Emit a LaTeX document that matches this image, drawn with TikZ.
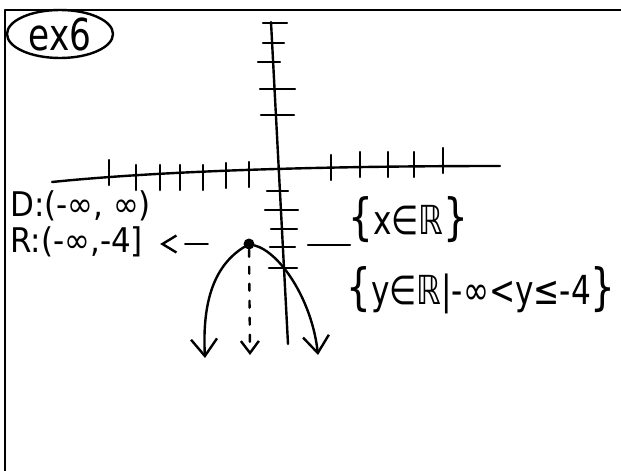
\documentclass[tikz,border=0pt]{standalone}
\usepackage{fontspec}
\setmainfont{DejaVu Sans}
\newfontfamily\handfont[FakeStretch=0.78]{DejaVu Sans}
\newfontfamily\labfont[FakeStretch=0.91]{DejaVu Sans}
\newcommand\bigbr{\fontsize{50}{50}\selectfont}
\usetikzlibrary{arrows.meta,positioning,shapes.geometric}

\begin{document}
\begin{tikzpicture}[
  x=1pt,y=-1pt,
  pen/.style={line width=2.4pt,line cap=round,line join=round},
  hand/.style={font=\handfont\fontsize{40}{42}\selectfont,inner sep=0pt},
  lab/.style={font=\labfont\fontsize{34}{36}\selectfont,inner sep=0pt,
    text height=0.78em,text depth=0.18em,anchor=west},
  barb/.style={-{Straight Barb[length=17pt,width=26pt]}},
  smallbarb/.style={-{Straight Barb[length=12pt,width=18pt]}}
]
  \useasboundingbox (0,0) rectangle (621,471);
  % Frame
  \draw[pen] (5,471) -- (5,10) -- (621,10);
  % Example tag
  \node[hand,font=\handfont\fontsize{44}{46}\selectfont,draw,pen,ellipse,
    minimum width=106pt,minimum height=48pt] (tag) at (60,34) {ex6};
  % Axes
  \draw[pen] (52,182) .. controls (150,172) and (300,166) .. (500,166);
  \draw[pen] (271,22) -- (288,344);
  \foreach \tx/\ty in {109/160,136/165,160/165,180/165,203/165,226/163,249/162,331/155,360/152,388/152,414/152,443/148}
    \draw[pen] (\tx,\ty) -- ++(0,25);
  \foreach \ty/\ta/\tb in {23/263/287,43/263/284,62/258/280,89/260/295,115/261/294,191/267/288,210/265/298,229/271/297,247/270/295,268/269/297}
    \draw[pen] (\ta,\ty) -- (\tb,\ty);
  % Vertex and branches
  \node[circle,fill,inner sep=0pt,minimum size=11pt] (vx) at (249,244) {};
  \coordinate (lt) at (205,358);
  \coordinate (rt) at (318,355);
  \coordinate (mt) at (250,355);
  \draw[pen,barb] (vx) .. controls (215,265) and (202,300) .. (lt);
  \draw[pen,barb] (vx) .. controls (280,252) and (312,300) .. (rt);
  \draw[pen,dash pattern=on 7pt off 10pt,smallbarb] (vx) -- (mt);
  % Domain and range
  \node[lab] (dom) at (10,213) {D:(-∞, ∞)};
  \node[lab] (rng) at (10,249) {R:(-∞,-4]};
  \draw[pen,shorten <=35.5pt,shorten >=42pt] (vx) -- (vx -| rng.east);
  \draw[pen,shorten <=79.5pt,shorten >=17pt,-{Straight Barb[length=14pt,width=17pt]}] (vx) -- (vx -| rng.east);
  % Set notation
  \coordinate (dl) at (308,245);
  \draw[pen] (dl) -- ++(42,0);
  \node[hand,anchor=west] (xset) at (348,220) {{\bigbr\{}x∈ℝ{\bigbr\}}};
  \node[hand,anchor=west] (yset) at (346,290) {{\bigbr\{}y∈ℝ|-∞<y≤-4{\bigbr\}}};
\end{tikzpicture}
\end{document}
